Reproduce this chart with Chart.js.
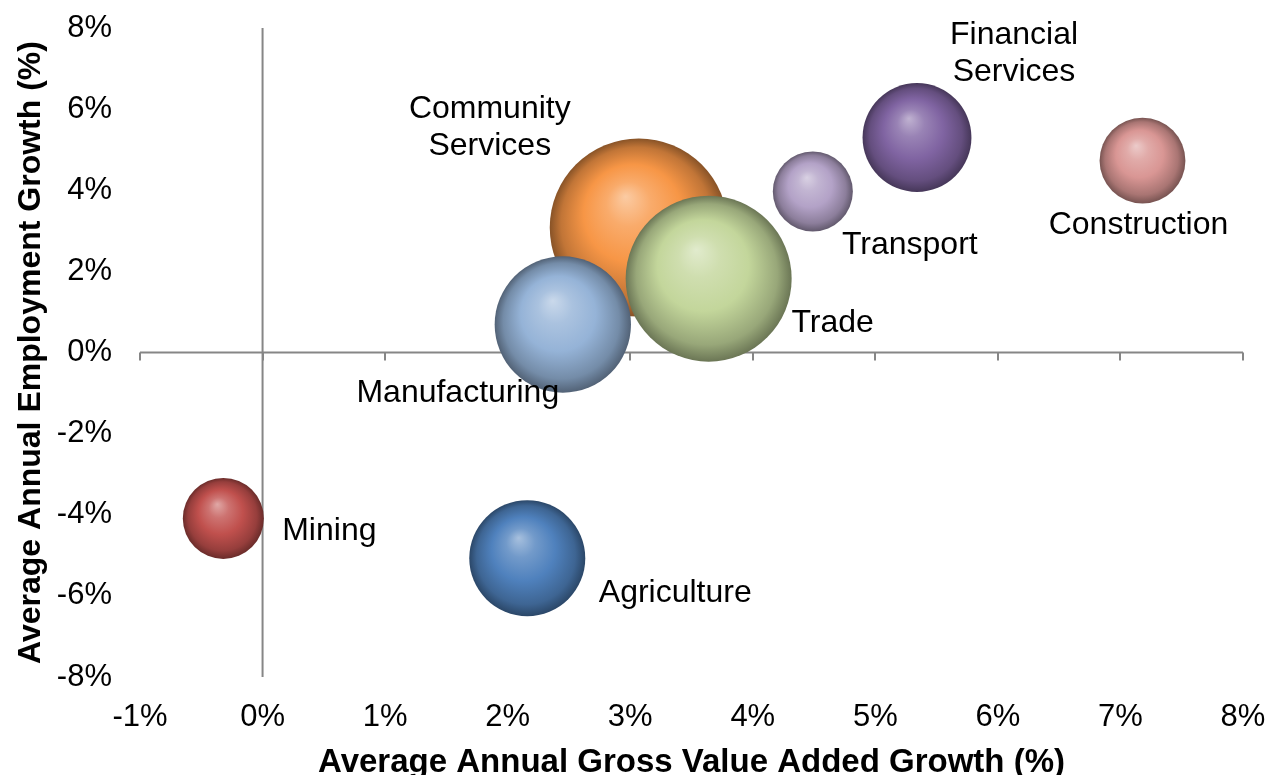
<!DOCTYPE html>
<html>
<head>
<meta charset="utf-8">
<script src="https://cdn.jsdelivr.net/npm/chart.js@4.4.0/dist/chart.umd.min.js"></script>
<style>
  html, body { margin: 0; padding: 0; background: #fff; overflow: hidden; }
  #wrap { width: 1271px; height: 790px; }
</style>
</head>
<body>
<div id="wrap"><canvas id="bubbleChart"></canvas></div>
<script>
// sectors in drawing order (back to front)
const sectors = ['Community Services', 'Trade', 'Manufacturing', 'Agriculture', 'Mining', 'Construction', 'Transport', 'Financial Services'];
const gvaGrowth = [3.07, 3.64, 2.45, 2.16, -0.32, 7.18, 4.49, 5.34];
const employmentGrowth = [3.08, 1.82, 0.69, -5.07, -4.09, 4.73, 3.97, 5.30];
const employmentShare = [9.9, 8.6, 5.8, 4.2, 2.05, 2.3, 2.0, 3.7];
const xTickValues = [-1, 0, 1, 2, 3, 4, 5, 6, 7, 8];
const yTickValues = [-8, -6, -4, -2, 0, 2, 4, 6, 8];

const sectorColors = ['#F79646', '#C3D69B', '#95B3D7', '#4F81BD', '#C0504D', '#D99694', '#B3A2C7', '#8064A2'];

// label centre relative to bubble centre, in px
const labelOffsets = {
    'Community Services': [-149, -100],
    'Trade': [124, 44],
    'Manufacturing': [-105, 69],
    'Agriculture': [148, 35],
    'Mining': [106, 13],
    'Construction': [-4, 65],
    'Transport': [97, 54],
    'Financial Services': [97, -84]
};

const RADIUS_SCALE = 28.3;
const FONT = '"Liberation Sans", Arial, sans-serif';

function mix(hex, t) {
    let r = parseInt(hex.slice(1, 3), 16);
    let g = parseInt(hex.slice(3, 5), 16);
    let b = parseInt(hex.slice(5, 7), 16);
    let target = t > 0 ? 255 : 0;
    let k = Math.abs(t);
    r = Math.round(r + (target - r) * k);
    g = Math.round(g + (target - g) * k);
    b = Math.round(b + (target - b) * k);
    return 'rgb(' + r + ',' + g + ',' + b + ')';
}

// sphere shading
function sphereFill(context) {
    let i = context.dataIndex;
    let base = sectorColors[i];
    let chart = context.chart;
    if (!chart.chartArea || !chart.scales.x) return base;
    let cx = chart.scales.x.getPixelForValue(gvaGrowth[i]);
    let cy = chart.scales.y.getPixelForValue(employmentGrowth[i]);
    let r = RADIUS_SCALE * Math.sqrt(employmentShare[i]);
    let grad = chart.ctx.createRadialGradient(cx - 0.15 * r, cy - 0.35 * r, 0, cx, cy, r);
    grad.addColorStop(0, mix(base, 0.5));
    grad.addColorStop(0.25, mix(base, 0.2));
    grad.addColorStop(0.55, base);
    grad.addColorStop(0.85, mix(base, -0.22));
    grad.addColorStop(1, mix(base, -0.45));
    return grad;
}

let points = [];
for (let i = 0; i < sectors.length; i++) {
    points.push({
        x: gvaGrowth[i],
        y: employmentGrowth[i],
        r: RADIUS_SCALE * Math.sqrt(employmentShare[i])
    });
}

// axis lines crossing at zero, with tick marks on the horizontal one
const crossAxes = {
    id: 'crossAxes',
    beforeDatasetsDraw(chart) {
        let ctx = chart.ctx;
        let area = chart.chartArea;
        let x0 = chart.scales.x.getPixelForValue(0);
        let y0 = chart.scales.y.getPixelForValue(0);
        ctx.save();
        ctx.strokeStyle = '#868686';
        ctx.lineWidth = 2;
        ctx.beginPath();
        ctx.moveTo(x0, area.top);
        ctx.lineTo(x0, area.bottom);
        ctx.moveTo(area.left, y0);
        ctx.lineTo(area.right, y0);
        xTickValues.forEach(function(v) {
            let px = Math.round(chart.scales.x.getPixelForValue(v));
            ctx.moveTo(px, y0);
            ctx.lineTo(px, y0 + 8);
        });
        ctx.stroke();
        ctx.restore();
    }
};

const sectorLabels = {
    id: 'sectorLabels',
    afterDatasetsDraw(chart) {
        let ctx = chart.ctx;
        ctx.save();
        ctx.font = '32px ' + FONT;
        ctx.fillStyle = '#000';
        ctx.textAlign = 'center';
        ctx.textBaseline = 'middle';
        sectors.forEach(function(name, i) {
            let cx = chart.scales.x.getPixelForValue(gvaGrowth[i]);
            let cy = chart.scales.y.getPixelForValue(employmentGrowth[i]);
            let off = labelOffsets[name];
            let lines = name.indexOf('Services') >= 0 ? name.split(' ') : [name];
            let lh = 37;
            let top = cy + off[1] - (lines.length - 1) * lh / 2;
            lines.forEach(function(line, k) {
                ctx.fillText(line, cx + off[0], top + k * lh);
            });
        });
        ctx.restore();
    }
};

new Chart(document.getElementById('bubbleChart'), {
    type: 'bubble',
    data: {
        datasets: [{
            label: 'Sectors',
            data: points,
            backgroundColor: sphereFill,
            borderWidth: 0,
            hoverBorderWidth: 0
        }]
    },
    options: {
        responsive: true,
        maintainAspectRatio: false,
        animation: false,
        events: [],
        layout: {
            autoPadding: false,
            padding: { top: 28, right: 28, left: 0, bottom: 0 }
        },
        plugins: {
            legend: { display: false },
            tooltip: { enabled: false }
        },
        scales: {
            x: {
                type: 'linear',
                min: xTickValues[0],
                max: xTickValues[xTickValues.length - 1],
                afterBuildTicks: function(scale) {
                    scale.ticks = xTickValues.map(v => ({ value: v }));
                },
                afterFit: function(scale) {
                    scale.height = 113;
                    scale.paddingLeft = 0;
                    scale.paddingRight = 0;
                },
                grid: { display: false, drawTicks: false },
                border: { display: false },
                ticks: {
                    callback: v => v + '%',
                    color: '#000',
                    padding: 22,
                    maxRotation: 0,
                    font: { family: FONT, size: 31 }
                },
                title: {
                    display: true,
                    text: 'Average Annual Gross Value Added Growth (%)',
                    color: '#000',
                    padding: { top: 0, bottom: 7 },
                    font: { family: FONT, size: 33, weight: 'bold' }
                }
            },
            y: {
                type: 'linear',
                min: yTickValues[0],
                max: yTickValues[yTickValues.length - 1],
                afterBuildTicks: function(scale) {
                    scale.ticks = yTickValues.map(v => ({ value: v }));
                },
                afterFit: function(scale) {
                    scale.width = 140;
                    scale.paddingTop = 0;
                    scale.paddingBottom = 0;
                },
                grid: { display: false, drawTicks: false },
                border: { display: false },
                ticks: {
                    callback: v => v + '%',
                    color: '#000',
                    padding: 28,
                    font: { family: FONT, size: 31 }
                },
                title: {
                    display: true,
                    text: 'Average Annual Employment Growth (%)',
                    color: '#000',
                    padding: { top: 12, bottom: 0 },
                    font: { family: FONT, size: 32, weight: 'bold' }
                }
            }
        }
    },
    plugins: [crossAxes, sectorLabels]
});
</script>
</body>
</html>
